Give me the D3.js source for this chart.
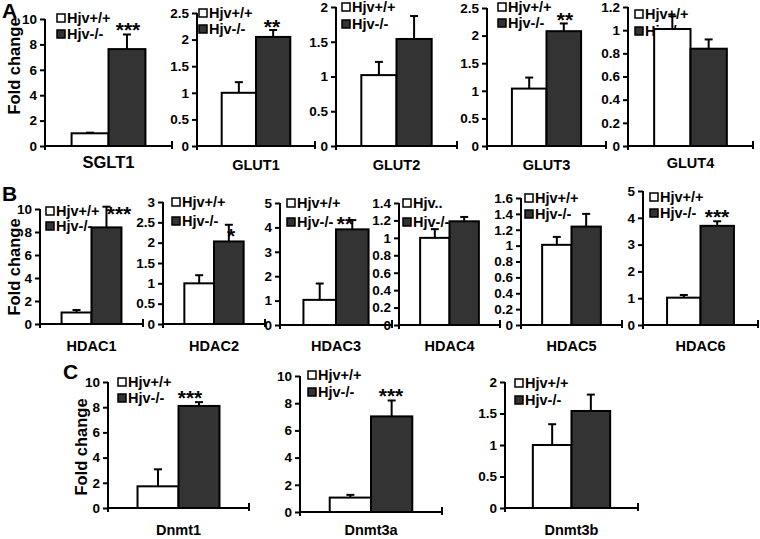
<!DOCTYPE html>
<html>
<head>
<meta charset="utf-8">
<script src="https://cdn.jsdelivr.net/npm/d3@7"></script>
<style>
  html, body { margin: 0; padding: 0; background: #fff; }
  svg { display: block; }
  text { font-family: "Liberation Sans", Arial, sans-serif; font-weight: bold; fill: #000; }
</style>
</head>
<body>
<script>
// ---------------- DATA ----------------
const genes   = ["SGLT1","GLUT1","GLUT2","GLUT3","GLUT4",
                 "HDAC1","HDAC2","HDAC3","HDAC4","HDAC5","HDAC6",
                 "Dnmt1","Dnmt3a","Dnmt3b"];
const seriesNames = ["Hjv+/+","Hjv-/-"];
const wtMean  = [1.00, 1.00, 1.02, 1.04, 1.01, 1.00, 1.00, 1.03, 1.00, 1.01, 1.02, 1.72, 1.06, 1.00];
const wtErr   = [0.05, 0.20, 0.19, 0.20, 0.11, 0.22, 0.20, 0.67, 0.10, 0.10, 0.10, 1.35, 0.20, 0.33];
const koMean  = [7.63, 2.05, 1.54, 2.08, 0.84, 8.40, 2.03, 3.92, 1.19, 1.24, 3.70, 8.10, 7.03, 1.54];
const koErr   = [1.15, 0.13, 0.33, 0.14, 0.08, 1.80, 0.41, 0.38, 0.05, 0.16, 0.17, 0.30, 1.17, 0.26];
const yMax    = [10, 2.5, 2, 2.5, 1.2, 10, 3, 5, 1.4, 1.6, 5, 10, 10, 2];
const yStep   = [2, 0.5, 0.5, 0.5, 0.2, 2, 0.5, 1, 0.2, 0.2, 1, 2, 2, 0.5];
const stars   = ["***","**","","**","","***","*","**","","","***","***","***",""];
// legend text as printed in each panel (HDAC4 shows a truncated label)
const legendWT = ["Hjv+/+","Hjv+/+","Hjv+/+","Hjv+/+","Hjv+/+","Hjv+/+","Hjv+/+","Hjv+/+","Hjv..","Hjv+/+","Hjv+/+","Hjv+/+","Hjv+/+","Hjv+/+"];
const panelLetters = ["A","B","C"];
const yTitle = "Fold change";

// ---------------- LAYOUT (positions only) ----------------
const layout = [
  {x0:45,  x1:172, top:19,  bot:146, lx:57,  ly1:18,  ly2:34,  sx:128, sy:27,  cy:168},
  {x0:197, x1:315, top:13,  bot:146, lx:199, ly1:13,  ly2:29,  sx:272, sy:24,  cy:170},
  {x0:336, x1:457, top:7,   bot:146, lx:342, ly1:7,   ly2:24,  sx:0,   sy:0,   cy:170},
  {x0:487, x1:606, top:8,   bot:146, lx:498, ly1:7,   ly2:23,  sx:565, sy:17,  cy:170},
  {x0:628, x1:753, top:7,   bot:146, lx:635, ly1:14,  ly2:31,  sx:0,   sy:0,   cy:168},
  {x0:40,  x1:143, top:209, bot:324, lx:46,  ly1:211, ly2:226, sx:119, sy:211, cy:351},
  {x0:163, x1:265, top:202, bot:324, lx:172, ly1:202, ly2:221, sx:231, sy:233, cy:351},
  {x0:280, x1:392, top:203, bot:325, lx:287, ly1:203, ly2:222, sx:345, sy:221, cy:351},
  {x0:399, x1:500, top:203, bot:325, lx:403, ly1:203, ly2:222, sx:0,   sy:0,   cy:351},
  {x0:521, x1:622, top:198, bot:325, lx:525, ly1:198, ly2:214, sx:0,   sy:0,   cy:351},
  {x0:643, x1:758, top:191, bot:325, lx:650, ly1:197, ly2:213, sx:717, sy:214, cy:351},
  {x0:108, x1:249, top:382, bot:508, lx:118, ly1:382, ly2:398, sx:190, sy:395, cy:535},
  {x0:300, x1:442, top:376, bot:512, lx:308, ly1:375, ly2:392, sx:391, sy:393, cy:535},
  {x0:505, x1:638, top:382, bot:508, lx:515, ly1:383, ly2:400, sx:0,   sy:0,   cy:535}
];
const letterPos = [{x:2, y:18}, {x:2, y:201}, {x:63, y:379}];
const titlePos  = [{x:20, y:66}, {x:20, y:267}, {x:87, y:447}];

const DARK = "#333333";

// ---------------- DRAW ----------------
const svg = d3.select("body").append("svg")
  .attr("width", 760).attr("height", 539);
svg.append("rect").attr("width", 760).attr("height", 539).attr("fill", "#fff");

genes.forEach((gene, i) => {
  const L = layout[i];
  const g = svg.append("g");
  const y = d3.scaleLinear().domain([0, yMax[i]]).range([L.bot, L.top]);
  const x = d3.scaleBand().domain(seriesNames).range([L.x0, L.x1])
    .paddingInner(0).paddingOuter(0.72);

  // legend (drawn first: bars overlap it in the original)
  const legendRows = [
    {label: legendWT[i], fill: "#fff", cy: L.ly1},
    {label: seriesNames[1], fill: DARK, cy: L.ly2}
  ];
  legendRows.forEach(r => {
    g.append("rect").attr("x", L.lx).attr("y", r.cy - 4).attr("width", 8).attr("height", 8)
      .attr("fill", r.fill).attr("stroke", "#000").attr("stroke-width", 1.5);
    g.append("text").attr("x", L.lx + 10).attr("y", r.cy + 5.3)
      .attr("font-size", 14.5).text(r.label);
  });

  // y axis
  const ticks = d3.range(0, yMax[i] + yStep[i] / 2, yStep[i]).map(v => +v.toFixed(2));
  const ax = g.append("g").attr("transform", `translate(${L.x0},0)`)
    .call(d3.axisLeft(y).tickValues(ticks).tickSize(5).tickSizeOuter(0)
      .tickFormat(d => String(d)));
  ax.select(".domain").remove();
  ax.selectAll(".tick line").attr("stroke", "#000").attr("stroke-width", 2);
  ax.selectAll(".tick text").attr("x", -8).attr("font-size", 13.5)
    .attr("font-family", "Liberation Sans, Arial, sans-serif").attr("font-weight", "bold")
    .attr("fill", "#000");
  g.append("line").attr("x1", L.x0).attr("x2", L.x0).attr("y1", L.top).attr("y2", L.bot + 4)
    .attr("stroke", "#000").attr("stroke-width", 2);

  // bars
  const vals = [
    {s: seriesNames[0], m: wtMean[i], e: wtErr[i], fill: "#fff"},
    {s: seriesNames[1], m: koMean[i], e: koErr[i], fill: DARK}
  ];
  vals.forEach(v => {
    const cx = x(v.s) + x.bandwidth() / 2;
    g.append("line").attr("x1", cx).attr("x2", cx).attr("y1", y(v.m)).attr("y2", y(v.m + v.e))
      .attr("stroke", "#000").attr("stroke-width", 2);
    g.append("line").attr("x1", cx - 4).attr("x2", cx + 4)
      .attr("y1", y(v.m + v.e)).attr("y2", y(v.m + v.e))
      .attr("stroke", "#000").attr("stroke-width", 2);
    g.append("rect").attr("x", x(v.s)).attr("y", y(v.m))
      .attr("width", x.bandwidth()).attr("height", y(0) - y(v.m))
      .attr("fill", v.fill).attr("stroke", "#000").attr("stroke-width", 2);
  });

  // x axis
  g.append("line").attr("x1", L.x0).attr("x2", L.x1).attr("y1", L.bot).attr("y2", L.bot)
    .attr("stroke", "#000").attr("stroke-width", 2);
  g.append("line").attr("x1", L.x1).attr("x2", L.x1).attr("y1", L.bot - 5).attr("y2", L.bot + 3)
    .attr("stroke", "#000").attr("stroke-width", 2);

  // significance
  if (stars[i]) {
    g.append("text").attr("x", L.sx).attr("y", L.sy + 10).attr("text-anchor", "middle")
      .attr("font-size", 21).text(stars[i]);
  }

  // category label
  g.append("text").attr("x", (L.x0 + L.x1) / 2).attr("y", L.cy).attr("text-anchor", "middle")
    .attr("font-size", gene === "SGLT1" ? 16.5 : 14.5).text(gene);
});

// panel letters
panelLetters.forEach((t, k) => {
  svg.append("text").attr("x", letterPos[k].x).attr("y", letterPos[k].y)
    .attr("font-size", 21).text(t);
});
// y titles
titlePos.forEach(p => {
  svg.append("text").attr("transform", `translate(${p.x},${p.y}) rotate(-90)`)
    .attr("text-anchor", "middle").attr("font-size", 16.5).text(yTitle);
});
</script>
</body>
</html>
